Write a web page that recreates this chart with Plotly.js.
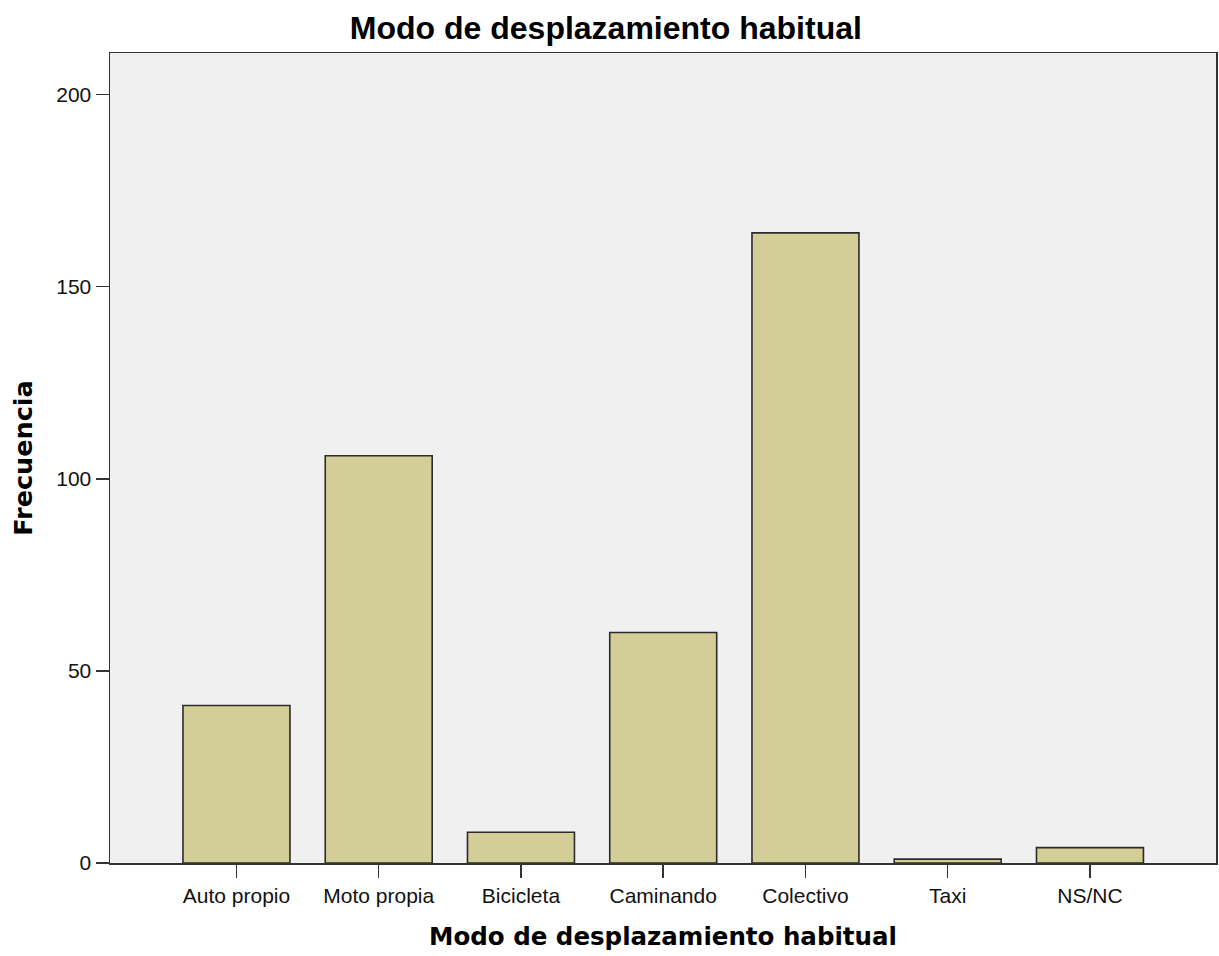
<!DOCTYPE html>
<html>
<head>
<meta charset="utf-8">
<script src="https://cdn.plot.ly/plotly-3.0.1.min.js"></script>
<style>html,body{margin:0;padding:0;background:#fff;}#chart{width:1219px;height:956px;}</style>
</head>
<body>
<div id="chart"></div>
<script>
const categories = ["Auto propio", "Moto propia", "Bicicleta", "Caminando", "Colectivo", "Taxi", "NS/NC"];
const frecuencia = [41, 106, 8, 60, 164, 1, 4];
const yTickValues = [0, 50, 100, 150, 200];

const trace = {
  type: 'bar',
  x: categories,
  y: frecuencia,
  width: 0.752,
  marker: {color: '#D3CE97', line: {color: '#2b2b2b', width: 1.6}},
  hoverinfo: 'x+y'
};

const layout = {
  width: 1219,
  height: 956,
  margin: {l: 110, r: 3, t: 53, b: 93},
  paper_bgcolor: '#ffffff',
  plot_bgcolor: '#F0F0F0',
  showlegend: false,
  bargap: 0.25,
  title: {
    text: '<b>Modo de desplazamiento habitual</b>',
    font: {family: 'Liberation Sans, Arial, sans-serif', size: 32, color: '#000'},
    x: 0.497, xref: 'container', xanchor: 'center',
    y: 1 - 28/956, yref: 'container', yanchor: 'middle'
  },
  xaxis: {
    type: 'category',
    range: [-0.889, 6.886],
    showgrid: false,
    zeroline: false,
    showline: true, linecolor: '#333', linewidth: 1.5, mirror: true,
    ticks: 'outside', ticklen: 13, tickwidth: 1.5, tickcolor: '#333',
    tickfont: {family: 'Liberation Sans, Arial, sans-serif', size: 21, color: '#111'},
    title: {
      text: '<b>Modo de desplazamiento habitual</b>',
      font: {family: 'DejaVu Sans, sans-serif', size: 24.5, color: '#000'},
      standoff: 22
    },
    fixedrange: true
  },
  yaxis: {
    range: [0, 210.8],
    tickvals: yTickValues,
    ticktext: yTickValues.map(String),
    showgrid: false,
    zeroline: false,
    showline: true, linecolor: '#333', linewidth: 1.5, mirror: true,
    ticks: 'outside', ticklen: 13, tickwidth: 1.5, tickcolor: '#333',
    tickfont: {family: 'Liberation Sans, Arial, sans-serif', size: 21, color: '#111'},
    title: {
      text: '<b>Frecuencia</b>',
      font: {family: 'DejaVu Sans, sans-serif', size: 25.5, color: '#000'},
      standoff: 16
    },
    fixedrange: true
  }
};

Plotly.newPlot('chart', [trace], layout, {displayModeBar: false, staticPlot: true});
</script>
</body>
</html>
